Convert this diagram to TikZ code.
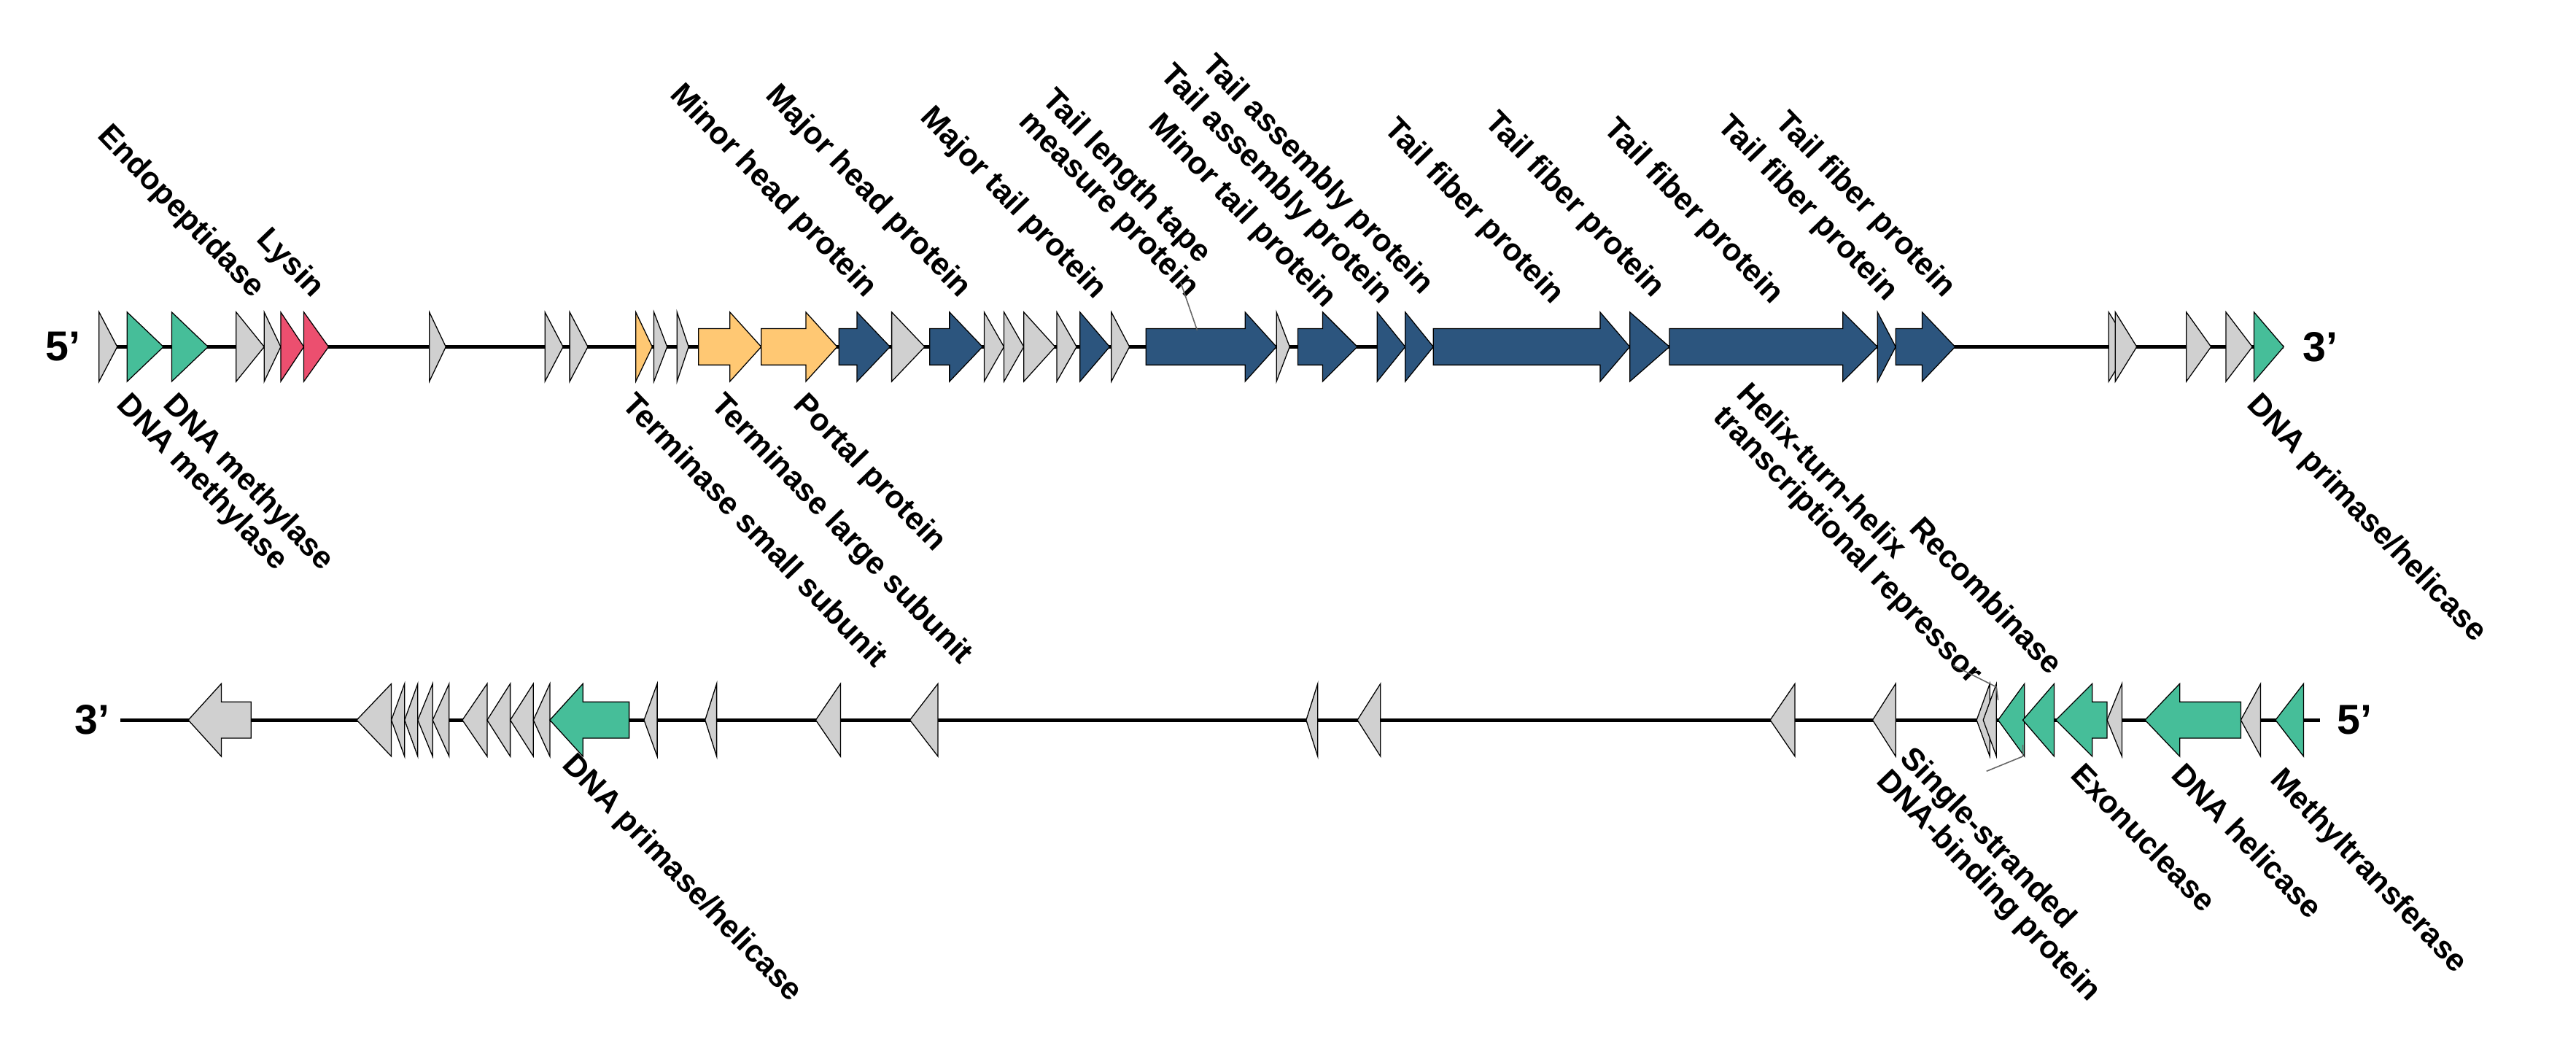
\documentclass[tikz,border=0pt]{standalone}
\usepackage{fontspec}
\setmainfont{Liberation Sans}
\begin{document}
\begin{tikzpicture}[x=0.025cm,y=-0.025cm,
  lab/.style={font=\bfseries\fontsize{13.5}{14}\selectfont,rotate=-46,inner sep=1pt,align=left},
  up/.style={lab,anchor=south east},
  dn/.style={lab,anchor=north west},
  endlab/.style={font=\bfseries\fontsize{18}{18}\selectfont,inner sep=0pt},
  leader/.style={draw=black!60,line width=0.5pt},
  dna/.style={line width=1.6pt,black}]
\definecolor{gy}{HTML}{D0D0D0}
\definecolor{gn}{HTML}{46BE99}
\definecolor{pk}{HTML}{EC4F6F}
\definecolor{or}{HTML}{FFC873}
\definecolor{bl}{HTML}{2C557E}
\useasboundingbox (0,0) rectangle (1560,638);
% DNA lines
\draw[dna] (68,210) -- (1383,210);
\draw[dna] (73,436) -- (1405,436);
\node[endlab] (t5) at (38,210) {5\char"27};
\node[endlab] (t3) at (1405,210) {3\char"27};
\node[endlab] (b3) at (56,436) {3\char"27};
\node[endlab] (b5) at (1426,436) {5\char"27};
% forward genes (top)
\foreach \a/\b/\h/\c in {60/71/60/gy,77/99/77/gn,104/126/104/gn,143/160/143/gy,160/170/160/gy,170/184/170/pk,184/199/184/pk,260/270/260/gy,330/341/330/gy,345/356/345/gy,385/395/385/or,396/404/396/gy,410/417/410/gy,423/461/442/or,461/507/488/or,508/539/519/bl,540/560/540/gy,563/595/575/bl,596/608/596/gy,608/620/608/gy,620/639/620/gy,640/652/640/gy,654/672/654/bl,673/684/673/gy,694/773/754/bl,773/781/773/gy,786/822/801/bl,834/851/834/bl,851/868/851/bl,868/987/969/bl,987/1011/987/bl,1011/1137/1116/bl,1137/1148/1137/bl,1148/1184/1164/bl,1277/1290/1277/gy,1281/1294/1281/gy,1324/1339/1324/gy,1348/1364/1348/gy,1365/1383/1365/gn}
  \filldraw[fill=\c,draw=black,line width=0.4pt] (\a,199) -- (\h,199) -- (\h,189) -- (\b,210) -- (\h,231) -- (\h,221) -- (\a,221) -- cycle;
% reverse genes (bottom): tip/back/end
\foreach \t/\k/\e/\c in {114/134/152/gy,216/237/237/gy,237/245/245/gy,245/253/253/gy,253/262/262/gy,262/272/272/gy,280/295/295/gy,295/309/309/gy,309/323/323/gy,323/333/333/gy,333/353/381/gn,390/398/398/gy,427/434/434/gy,494/509/509/gy,551/568/568/gy,791/798/798/gy,822/836/836/gy,1072/1087/1087/gy,1134/1148/1148/gy,1197/1205/1205/gy,1201/1209/1209/gy,1210/1226/1226/gn,1225/1244/1244/gn,1245/1267/1276/gn,1276/1285/1285/gy,1299/1320/1357/gn,1357/1369/1369/gy,1378/1395/1395/gn}
  \filldraw[fill=\c,draw=black,line width=0.4pt] (\e,425) -- (\k,425) -- (\k,414) -- (\t,436) -- (\k,458) -- (\k,447) -- (\e,447) -- cycle;
% top labels above
\node[up] (endo) at (150,186) {Endopeptidase};
\node[up] (lys) at (186,186) {Lysin};
\node[up] (mhp) at (521,186) {Minor head protein};
\node[up] (majh) at (578,186) {Major head protein};
\node[up] (majt) at (660,187) {Major tail protein};
\node[up] (tltm) at (716,186) {Tail length tape\\measure protein};
\coordinate (tltmA) at (715,171);
\coordinate (tltmB) at (725,200);
\draw[leader] (tltmA) -- (tltmB);
\node[up] (mtp) at (799,192) {Minor tail protein};
\node[up] (tap2) at (833,190) {Tail assembly protein};
\node[up] (tap1) at (858,184) {Tail assembly protein};
\node[up] (tf1) at (937,190) {Tail fiber protein};
\node[up] (tf2) at (998,186) {Tail fiber protein};
\node[up] (tf3) at (1070,190) {Tail fiber protein};
\node[up] (tf4) at (1139,188) {Tail fiber protein};
\node[up] (tf5) at (1174,186) {Tail fiber protein};
% top labels below
\node[dn] (dm1) at (80,234) {DNA methylase};
\node[dn] (dm2) at (108,234) {DNA methylase};
\node[dn] (tss) at (386,234) {Terminase small subunit};
\node[dn] (tls) at (440,234) {Terminase large subunit};
\node[dn] (pp) at (490,234) {Portal protein};
\node[dn] (dph1) at (1370,234) {DNA primase/helicase};
% bottom row labels
\node[dn] (dph2) at (350,452) {DNA primase/helicase};
\node[up] (hth) at (1190,420) {Helix-turn-helix\\transcriptional repressor};
\coordinate (hthA) at (1183,403);
\coordinate (hthB) at (1209,416);
\coordinate (hthC) at (1210,424);
\draw[leader] (hthA) -- (hthB) -- (hthC);
\node[up] (rec) at (1241,412) {Recombinase};
\node[dn] (ssb) at (1160,448) {Single-stranded\\DNA-binding protein};
\coordinate (ssbA) at (1203,467);
\coordinate (ssbB) at (1225,458);
\coordinate (ssbC) at (1225,451);
\draw[leader] (ssbA) -- (ssbB) -- (ssbC);
\node[dn] (exo) at (1263,458) {Exonuclease};
\node[dn] (dh) at (1324,458) {DNA helicase};
\node[dn] (mt) at (1384,461) {Methyltransferase};
\end{tikzpicture}
\end{document}
